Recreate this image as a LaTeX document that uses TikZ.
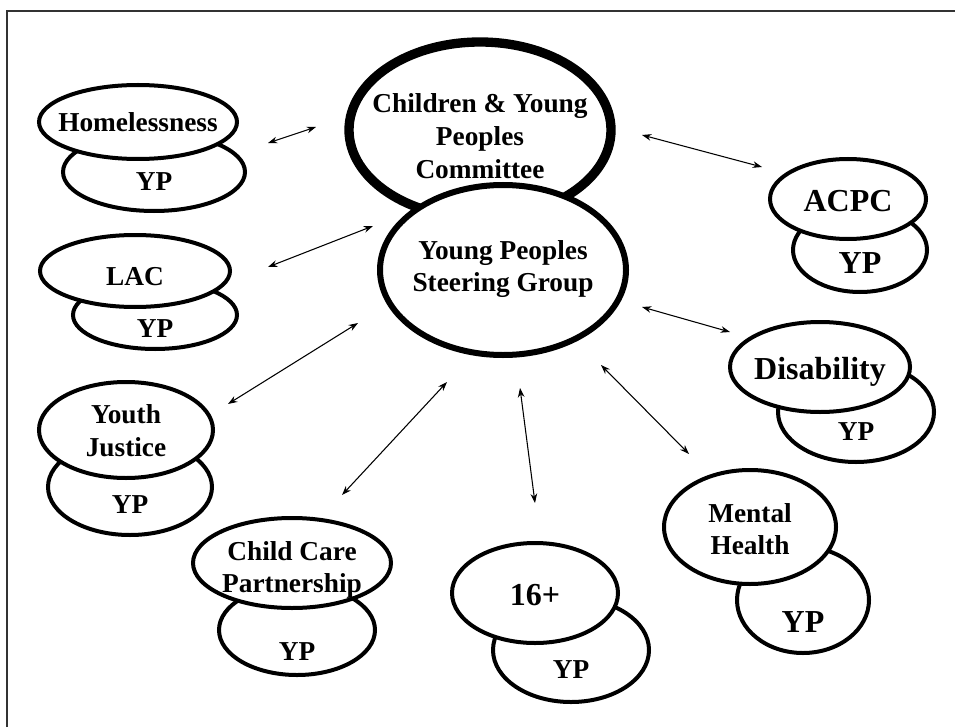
\documentclass[tikz,border=0pt]{standalone}
\usepackage{fontspec}
\setmainfont{Liberation Serif}
\usetikzlibrary{shapes.geometric,arrows.meta}
\newcommand{\lbl}[2]{\raisebox{#1}[0pt][0pt]{\makebox[0pt]{\begin{tabular}{@{}c@{}}#2\end{tabular}}}}
\begin{document}
\begin{tikzpicture}[x=0.75pt,y=-0.75pt,
  oval/.style={ellipse,draw=black,fill=white,line width=3pt,inner sep=0pt,
    font=\fontsize{20.5}{24.5}\selectfont\bfseries},
  bigoval/.style={oval,font=\fontsize{24}{28}\selectfont\bfseries},
  link/.style={line width=0.8pt,{Stealth[length=7pt,width=5pt]}-{Stealth[length=7pt,width=5pt]}}]
\useasboundingbox (0,0) rectangle (955,727);
\draw[line width=1.5pt,black!80] (7,727) -- (7,11) -- (955,11);

% Committee and steering group
\node[oval,line width=7pt,minimum width=262*0.75pt,minimum height=176*0.75pt] (cyp) at (480,130)
  {\lbl{-12pt}{Children \& Young\\Peoples\\Committee}};
\node[oval,line width=4.5pt,minimum width=246*0.75pt,minimum height=170*0.75pt] (ypsg) at (503,270)
  {\lbl{-4.5pt}{Young Peoples\\Steering Group}};

% Homelessness
\node[oval,minimum width=182*0.75pt,minimum height=78*0.75pt] (homyp) at (154,172) {\lbl{-14pt}{YP}};
\node[oval,minimum width=198*0.75pt,minimum height=74*0.75pt] (hom) at (138,122) {\lbl{-7.5pt}{Homelessness}};

% LAC
\node[oval,minimum width=164*0.75pt,minimum height=68*0.75pt] (lacyp) at (155,315) {\lbl{-17pt}{YP}};
\node[oval,minimum width=190*0.75pt,minimum height=72*0.75pt] (lac) at (135,271) {\lbl{-11pt}{LAC}};

% Youth Justice
\node[oval,minimum width=164*0.75pt,minimum height=96*0.75pt] (yjyp) at (130,487) {\lbl{-20pt}{YP}};
\node[oval,minimum width=174*0.75pt,minimum height=96*0.75pt] (yj) at (126,430) {\lbl{-8pt}{Youth\\Justice}};

% Child Care Partnership
\node[oval,minimum width=156*0.75pt,minimum height=90*0.75pt] (ccpyp) at (297,630) {\lbl{-23pt}{YP}};
\node[oval,minimum width=198*0.75pt,minimum height=90*0.75pt] (ccp) at (292,563) {\lbl{-10.5pt}{Child Care\\Partnership}};

% 16+
\node[oval,minimum width=156*0.75pt,minimum height=104*0.75pt] (sixyp) at (571,650) {\lbl{-22pt}{YP}};
\node[bigoval,minimum width=166*0.75pt,minimum height=100*0.75pt] (six) at (535,593) {\lbl{-10pt}{16+}};

% Mental Health
\node[bigoval,minimum width=132*0.75pt,minimum height=106*0.75pt] (mhyp) at (803,600) {\lbl{-25pt}{YP}};
\node[oval,minimum width=172*0.75pt,minimum height=114*0.75pt] (mh) at (750,527) {\lbl{-9pt}{Mental\\Health}};

% Disability
\node[oval,minimum width=156*0.75pt,minimum height=100*0.75pt] (disyp) at (856,412) {\lbl{-22pt}{YP}};
\node[bigoval,minimum width=180*0.75pt,minimum height=90*0.75pt] (dis) at (820,367) {\lbl{-10pt}{Disability}};

% ACPC
\node[bigoval,minimum width=134*0.75pt,minimum height=84*0.75pt] (acpcyp) at (860,250) {\lbl{-18pt}{YP}};
\node[bigoval,minimum width=156*0.75pt,minimum height=80*0.75pt] (acpc) at (848,199) {\lbl{-10pt}{ACPC}};

% arrow end points
\coordinate (a1) at (268,143); \coordinate (b1) at (316,127);
\coordinate (a2) at (268,267); \coordinate (b2) at (373,226);
\coordinate (a3) at (228,404); \coordinate (b3) at (358,323);
\coordinate (a4) at (342,495); \coordinate (b4) at (447,382);
\coordinate (a5) at (520,388); \coordinate (b5) at (535,503);
\coordinate (a6) at (601,365); \coordinate (b6) at (689,454);
\coordinate (a7) at (642,307); \coordinate (b7) at (730,332);
\coordinate (a8) at (642,135); \coordinate (b8) at (762,167);
\foreach \i in {1,...,8} \draw[link] (a\i) -- (b\i);
\end{tikzpicture}
\end{document}
